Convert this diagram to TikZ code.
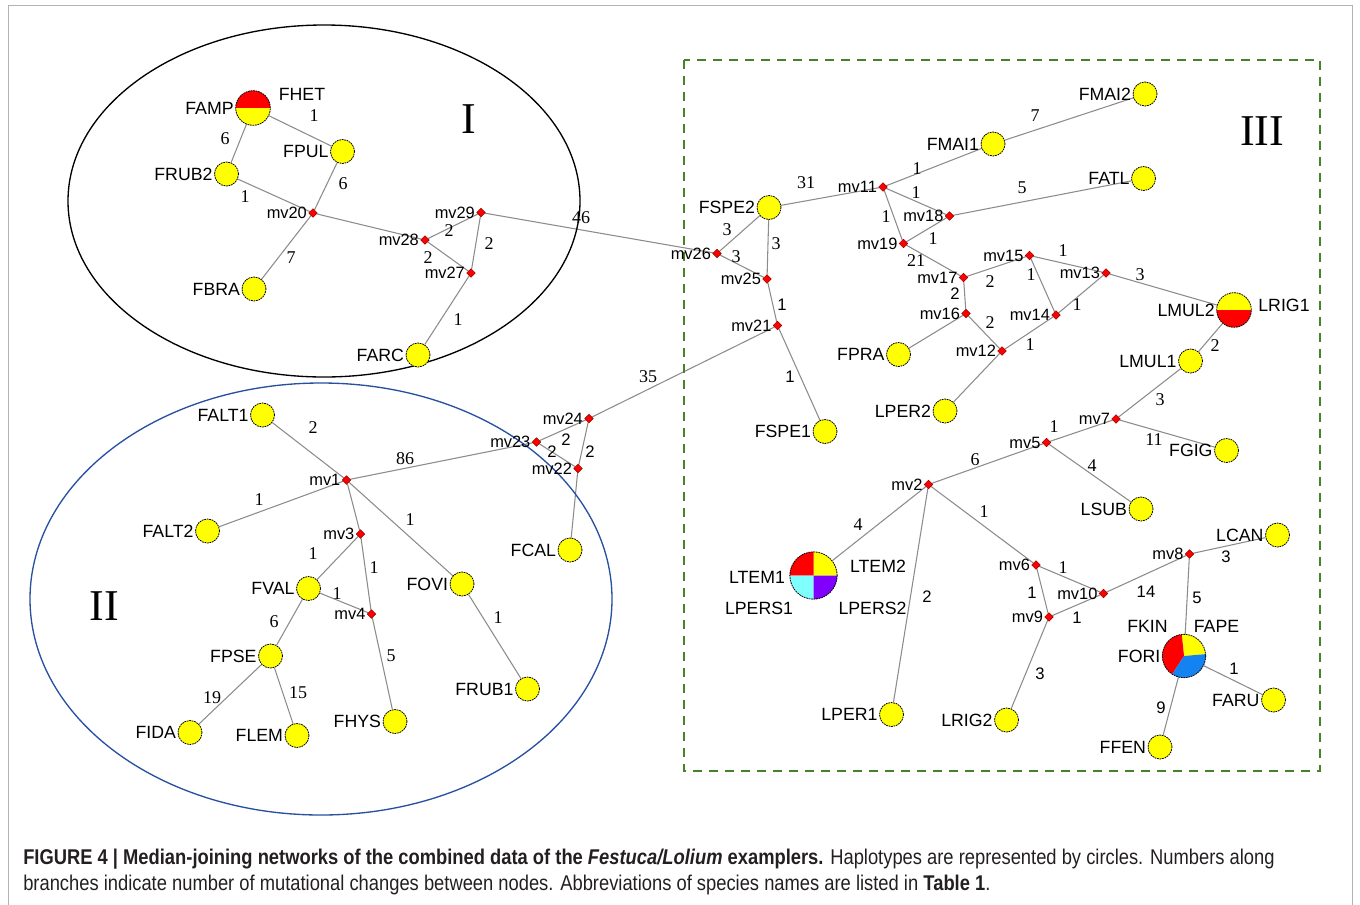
\documentclass[tikz,border=0pt]{standalone}
\usepackage{fontspec}
\setmainfont{Liberation Serif}
\setsansfont{Liberation Sans}
\newfontfamily\capfont[FakeStretch=0.86]{Liberation Sans}
\usetikzlibrary{shapes.geometric,backgrounds}
\definecolor{hapyellow}{RGB}{255,255,0}
\definecolor{hapred}{RGB}{255,0,0}
\definecolor{hapblue}{RGB}{20,130,240}
\definecolor{hapcyan}{RGB}{128,255,255}
\definecolor{happurple}{RGB}{128,0,255}
\definecolor{boxgreen}{RGB}{70,130,40}
\definecolor{ellblue}{RGB}{40,80,160}
\definecolor{edgegray}{RGB}{140,140,140}
\definecolor{captext}{RGB}{35,31,32}
\begin{document}
\begin{tikzpicture}[x=0.75pt,y=-0.75pt,
 hap/.style={circle,fill=hapyellow,draw=black,dash pattern=on 1.3pt off 0.6pt,line width=0.6pt,minimum size=18pt,inner sep=0pt},
 pie/.style={circle,draw=black,dash pattern=on 1.3pt off 0.6pt,line width=0.6pt,inner sep=0pt},
 mv/.style={diamond,fill=red,draw=red!60!black,line width=0.3pt,minimum size=6.5pt,inner sep=0pt},
 lab/.style={font=\sffamily\fontsize{13.3}{14}\selectfont,inner sep=1pt,text=black},
 mvlab/.style={font=\sffamily\fontsize{12.3}{13}\selectfont,inner sep=1pt,text=black},
 num/.style={font=\rmfamily\fontsize{13.5}{14}\selectfont,inner sep=0pt},
 nums/.style={font=\sffamily\fontsize{12.5}{13}\selectfont,inner sep=0pt},
 roman/.style={font=\rmfamily\fontsize{33}{33}\selectfont,inner sep=0pt},
 link/.style={draw=edgegray,line width=0.8pt},
 captxt/.style={anchor=base west,inner sep=0pt,text=captext,font=\capfont\fontsize{16}{18}\selectfont},
 every label/.style={label distance=0pt},
]
\useasboundingbox (0,0) rectangle (1360,904);
% frame
\draw[gray!60,line width=0.6pt] (8,910) -- (8,5) -- (1352,5) -- (1352,910);
% groups
\draw[black,line width=1pt] (324,201) ellipse [x radius=256, y radius=176];
\draw[ellblue,line width=1pt] (321,599) ellipse [x radius=291, y radius=216];
\draw[boxgreen,dash pattern=on 7pt off 5pt,line width=1.2pt] (684,60) rectangle (1320,771);
\node[roman] (rI) at (469,119) {I};
\node[roman] (rII) at (104,606) {II};
\node[roman] (rIII) at (1262,131) {III};

% pie fills
\fill[hapred] (253,108) -- ++(0:13pt) arc[start angle=0,end angle=180,radius=13pt] -- cycle;
\fill[hapyellow] (253,108) -- ++(180:13pt) arc[start angle=180,end angle=360,radius=13pt] -- cycle;
\fill[hapyellow] (1234,310) -- ++(0:13pt) arc[start angle=0,end angle=180,radius=13pt] -- cycle;
\fill[hapred] (1234,310) -- ++(180:13pt) arc[start angle=180,end angle=360,radius=13pt] -- cycle;
\fill[hapyellow] (813.5,575.5) -- ++(0:17.75pt) arc[start angle=0,end angle=90,radius=17.75pt] -- cycle;
\fill[hapred] (813.5,575.5) -- ++(90:17.75pt) arc[start angle=90,end angle=180,radius=17.75pt] -- cycle;
\fill[hapcyan] (813.5,575.5) -- ++(180:17.75pt) arc[start angle=180,end angle=270,radius=17.75pt] -- cycle;
\fill[happurple] (813.5,575.5) -- ++(270:17.75pt) arc[start angle=270,end angle=360,radius=17.75pt] -- cycle;
\fill[hapyellow] (1184,656) -- ++(5:16.25pt) arc[start angle=5,end angle=96,radius=16.25pt] -- cycle;
\fill[hapred] (1184,656) -- ++(96:16.25pt) arc[start angle=96,end angle=237,radius=16.25pt] -- cycle;
\fill[hapblue] (1184,656) -- ++(237:16.25pt) arc[start angle=237,end angle=365,radius=16.25pt] -- cycle;

% haplotype nodes
\node[pie,minimum size=26pt,label={[lab]left:FAMP}] (famp) at (253,108) {};
\node[lab] (fhetlab) at (302,94) {FHET};
\node[hap,label={[lab]left:FPUL}] (fpul) at (342.5,151.5) {};
\node[hap,label={[lab]left:FRUB2}] (frub2) at (226.5,174) {};
\node[hap,label={[lab]left:FBRA}] (fbra) at (254,289) {};
\node[hap,label={[lab]left:FARC}] (farc) at (418,355) {};
\node[hap,label={[lab]left:FALT1}] (falt1) at (262.5,415) {};
\node[hap,label={[lab]left:FALT2}] (falt2) at (207.5,531) {};
\node[hap,label={[lab]left:FVAL}] (fval) at (308.5,588.5) {};
\node[hap,label={[lab]left:FOVI}] (fovi) at (462,584) {};
\node[hap,label={[lab]left:FPSE}] (fpse) at (270.5,656) {};
\node[hap,label={[lab]left:FIDA}] (fida) at (190,732.5) {};
\node[hap,label={[lab]left:FLEM}] (flem) at (297,735.5) {};
\node[hap,label={[lab]left:FHYS}] (fhys) at (395,721.5) {};
\node[hap,label={[lab]left:FRUB1}] (frub1) at (527.5,689) {};
\node[hap,label={[lab]left:FCAL}] (fcal) at (570,550) {};
\node[hap,label={[lab]left:FSPE2}] (fspe2) at (769,207.5) {};
\node[hap,label={[lab]left:FSPE1}] (fspe1) at (825,431.5) {};
\node[hap,label={[lab]left:FMAI1}] (fmai1) at (993,144) {};
\node[hap,label={[lab]left:FMAI2}] (fmai2) at (1145,94) {};
\node[hap,label={[lab]left:FATL}] (fatl) at (1143.5,178.5) {};
\node[hap,label={[lab]left:FPRA}] (fpra) at (898.5,354.5) {};
\node[hap,label={[lab]left:LPER2}] (lper2) at (945,411) {};
\node[pie,minimum size=26pt,label={[lab]left:LMUL2}] (lmul2) at (1234,310) {};
\node[lab] (lrig1lab) at (1284,305) {LRIG1};
\node[hap,label={[lab]left:LMUL1}] (lmul1) at (1190.5,361) {};
\node[hap,label={[lab]left:FGIG}] (fgig) at (1226.5,450.5) {};
\node[hap,label={[lab]left:LSUB}] (lsub) at (1141,509) {};
\node[pie,minimum size=35.5pt] (ltem) at (813.5,575.5) {};
\node[lab] (ltem1lab) at (757,577) {LTEM1};
\node[lab] (ltem2lab) at (878,566) {LTEM2};
\node[lab] (lpers1lab) at (759,608) {LPERS1};
\node[lab] (lpers2lab) at (872.5,608) {LPERS2};
\node[hap,label={[lab]left:LPER1}] (lper1) at (891.5,714.5) {};
\node[hap,label={[lab]left:LRIG2}] (lrig2) at (1006.5,720) {};
\node[hap,label={[lab]left:LCAN}] (lcan) at (1277.5,535) {};
\node[pie,minimum size=32.5pt,label={[lab]left:FORI}] (fkin) at (1184,656) {};
\node[lab] (fkinlab) at (1147.5,626.5) {FKIN};
\node[lab] (fapelab) at (1216.5,626.5) {FAPE};
\node[hap,label={[lab]left:FARU}] (faru) at (1273.5,700) {};
\node[hap,label={[lab]left:FFEN}] (ffen) at (1160,747) {};

% median vectors
\foreach \n/\x/\y in {mv20/313/213, mv28/425/240, mv29/481/212.5, mv27/471/273,
  mv1/346.5/480, mv3/360.5/534, mv4/371.5/614, mv23/536.5/442, mv24/589/418.5, mv22/578/468.5,
  mv26/717/253.5, mv25/767/279, mv21/777.5/325.5, mv11/883/187, mv18/949.5/216, mv19/903.5/243.5,
  mv17/963.5/277.5, mv16/966/313.5, mv15/1029.5/255.5, mv13/1106/273, mv14/1056/315, mv12/1002/351,
  mv7/1116/419, mv5/1046.5/442.5, mv2/928.5/484.5, mv6/1036/565, mv9/1049/617, mv10/1103.5/593.5, mv8/1189.5/554}
  {\node[mv,label={[mvlab]left:\n}] (\n) at (\x,\y) {};}

% connectors
\begin{scope}[on background layer]
\foreach \a/\b in {famp/fpul, famp/frub2, fpul/mv20, frub2/mv20, mv20/fbra, mv20/mv28, mv28/mv29, mv28/mv27, mv29/mv27, mv27/farc, mv29/mv26,
 falt1/mv1, mv1/falt2, mv1/mv23, mv1/mv3, mv1/fovi, mv3/fval, mv3/mv4, fval/mv4, fval/fpse, fpse/fida, fpse/flem, mv4/fhys, fovi/frub1, mv23/mv24, mv23/mv22, mv24/mv22, mv22/fcal, mv24/mv21,
 mv26/fspe2, mv26/mv25, fspe2/mv25, mv25/mv21, mv21/fspe1, fspe2/mv11, mv11/fmai1, fmai1/fmai2, mv11/mv18, mv11/mv19, mv18/fatl, mv19/mv18, mv19/mv17, mv17/mv15, mv17/mv16, mv15/mv13, mv15/mv14, mv13/mv14, mv16/mv12, mv14/mv12, mv13/lmul2, mv16/fpra, mv12/lper2, lmul2/lmul1, lmul1/mv7, mv7/fgig, mv5/mv7, mv5/lsub, mv2/mv5, mv2/ltem, mv2/lper1, mv2/mv6, mv6/mv10, mv6/mv9, mv9/mv10, mv10/mv8, mv9/lrig2, mv8/lcan, mv8/fkin, fkin/faru, fkin/ffen}
 {\draw[link] (\a) -- (\b);}
\end{scope}

% branch numbers
\node[num] at (314,116) {1};
\node[num] at (225,139) {6};
\node[num] at (343,184) {6};
\node[num] at (245,197) {1};
\node[num] at (291,258) {7};
\node[num] at (449,231) {2};
\node[num] at (428,258) {2};
\node[num] at (489,244) {2};
\node[num] at (458,320) {1};
\node[num] at (581,218) {46};
\node[num] at (313,428) {2};
\node[num] at (405,459) {86};
\node[num] at (259,500) {1};
\node[num] at (410,520) {1};
\node[num] at (313,554) {1};
\node[num] at (374,568) {1};
\node[num] at (337,594) {1};
\node[num] at (274,622) {6};
\node[num] at (212,698) {19};
\node[num] at (298,693) {15};
\node[num] at (391,656) {5};
\node[num] at (498,618) {1};
\node[nums] at (566,440) {2};
\node[nums] at (552,452) {2};
\node[nums] at (590,452) {2};
\node[num] at (648,377) {35};
\node[num] at (727,230) {3};
\node[num] at (736,257) {3};
\node[num] at (776,244) {3};
\node[nums] at (782,305) {1};
\node[nums] at (790,377) {1};
\node[num] at (806,183) {31};
\node[num] at (917,169) {1};
\node[num] at (1035,116) {7};
\node[num] at (916,193) {1};
\node[num] at (886,217) {1};
\node[num] at (1022,188) {5};
\node[num] at (933,239) {1};
\node[num] at (916,261) {21};
\node[num] at (990,282) {2};
\node[nums] at (955,294) {2};
\node[num] at (1063,251) {1};
\node[num] at (1031,275) {1};
\node[num] at (1077,305) {1};
\node[num] at (990,323) {2};
\node[num] at (1030,345) {1};
\node[num] at (1140,275) {3};
\node[num] at (1215,346) {2};
\node[num] at (1160,400) {3};
\node[num] at (1154,440) {11};
\node[num] at (1054,427) {1};
\node[num] at (1092,466) {4};
\node[num] at (975,460) {6};
\node[num] at (858,525) {4};
\node[nums] at (927,597) {2};
\node[num] at (984,512) {1};
\node[num] at (1063,568) {1};
\node[nums] at (1032,593) {1};
\node[nums] at (1077,618) {1};
\node[nums] at (1146,592) {14};
\node[nums] at (1040,674) {3};
\node[nums] at (1226,557) {3};
\node[nums] at (1197,598) {5};
\node[nums] at (1234,669) {1};
\node[nums] at (1161,708) {9};

% caption
\node[captxt] (cap1) at (23,864)
 {\textbf{FIGURE 4 | Median-joining networks of the combined data of the \textit{Festuca/Lolium} examplers.} Haplotypes are represented by circles. Numbers along};
\node[captxt] (cap2) at (23,890)
 {branches indicate number of mutational changes between nodes. Abbreviations of species names are listed in \textbf{Table 1}.};
\end{tikzpicture}
\end{document}
